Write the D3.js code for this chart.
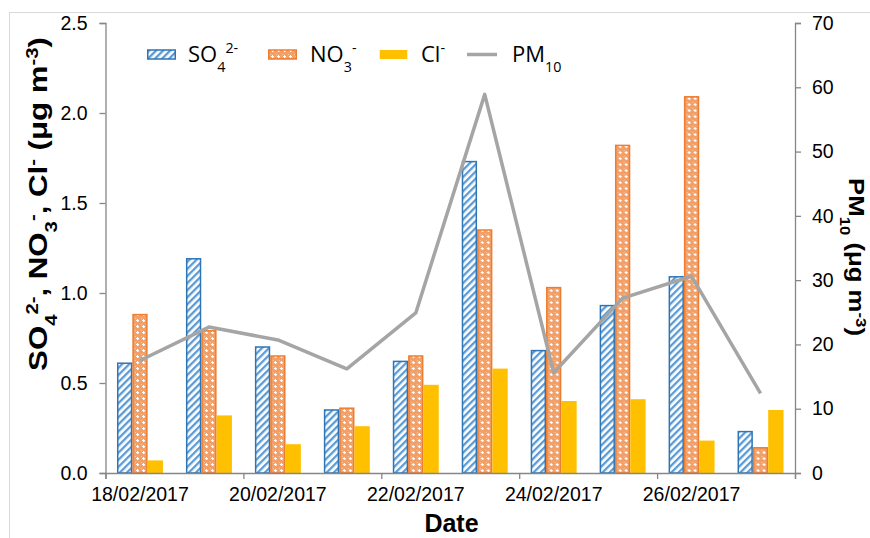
<!DOCTYPE html>
<html>
<head>
<meta charset="utf-8">
<script src="https://cdn.jsdelivr.net/npm/d3@7"></script>
<style>
  body { margin: 0; background: #fff; }
  svg { display: block; }
</style>
</head>
<body>
<div id="chart"></div>
<script>
// data
var dates = ["18/02/2017", "19/02/2017", "20/02/2017", "21/02/2017", "22/02/2017",
             "23/02/2017", "24/02/2017", "25/02/2017", "26/02/2017", "27/02/2017"];
var so4 = [0.61, 1.19, 0.70, 0.35, 0.62, 1.73, 0.68, 0.93, 1.09, 0.23];
var no3 = [0.88, 0.79, 0.65, 0.36, 0.65, 1.35, 1.03, 1.82, 2.09, 0.14];
var cl = [0.07, 0.32, 0.16, 0.26, 0.49, 0.58, 0.40, 0.41, 0.18, 0.35];
var pm10 = [17.5, 22.7, 20.7, 16.2, 24.9, 58.9, 15.6, 27.2, 30.6, 12.4];
var leftTicks = [0, 0.5, 1.0, 1.5, 2.0, 2.5];
var rightTicks = [0, 10, 20, 30, 40, 50, 60, 70];
var seriesKeys = ["so4", "no3", "cl"];

// set the dimensions and margins of the graph
var W = 870, H = 538;
var plot = {left: 105.5, right: 795, top: 23, bottom: 473};

var svg = d3.select("#chart")
    .append("svg")
        .attr("width", W)
        .attr("height", H);

// patterns for the bars
var defs = svg.append("defs");
var stripes = defs.append("pattern")
    .attr("id", "stripes")
    .attr("patternUnits", "userSpaceOnUse")
    .attr("width", 5).attr("height", 5)
    .attr("patternTransform", "rotate(45)");
stripes.append("rect").attr("width", 5).attr("height", 5).attr("fill", "#fff");
stripes.append("rect").attr("width", 2.3).attr("height", 5).attr("fill", "#5b9bd5");

var dots = defs.append("pattern")
    .attr("id", "dots")
    .attr("patternUnits", "userSpaceOnUse")
    .attr("width", 6).attr("height", 6);
dots.append("rect").attr("width", 6).attr("height", 6).attr("fill", "#f3a068");
dots.append("rect").attr("x", 0).attr("y", 0).attr("width", 1).attr("height", 1).attr("fill", "#f8c9a6");
dots.append("rect").attr("x", 3).attr("y", 3).attr("width", 1).attr("height", 1).attr("fill", "#f8c9a6");
dots.append("rect").attr("x", 2).attr("y", 1).attr("width", 1).attr("height", 3).attr("fill", "#fff");
dots.append("rect").attr("x", 1).attr("y", 2).attr("width", 3).attr("height", 1).attr("fill", "#fff");

// chart area border
svg.append("rect")
    .attr("x", 9.5).attr("y", 12.5)
    .attr("width", W).attr("height", H)
    .attr("fill", "none")
    .attr("stroke", "#d9d9d9");

// scales
var x = d3.scaleBand().domain(dates).range([plot.left, plot.right])
    .paddingInner(1 / 3).paddingOuter(1 / 6);
var xSub = d3.scaleBand().domain(seriesKeys).range([0, x.bandwidth()]);
var xIdx = d3.scaleLinear().domain([0, dates.length]).range([plot.left, plot.right]);
var yL = d3.scaleLinear().domain([0, 2.5]).range([plot.bottom, plot.top]);
var yR = d3.scaleLinear().domain([0, 70]).range([plot.bottom, plot.top]);

var rows = dates.map(function(d, i) {
    return {date: d, so4: so4[i], no3: no3[i], cl: cl[i], pm: pm10[i]};
});

var styles = {
    so4: {fill: "url(#stripes)", stroke: "#2e75b6"},
    no3: {fill: "url(#dots)", stroke: "#ed7d31"},
    cl: {fill: "#ffc000", stroke: "none"}
};

// bars
var groups = svg.append("g").selectAll("g")
    .data(rows).enter().append("g")
    .attr("transform", function(d) { return "translate(" + x(d.date) + ",0)"; });

groups.selectAll("rect")
    .data(function(d) { return seriesKeys.map(function(k) { return {key: k, value: d[k]}; }); })
    .enter().append("rect")
        .attr("x", function(d) { return xSub(d.key) + (d.key == "cl" ? 0 : 0.75); })
        .attr("y", function(d) { return yL(d.value); })
        .attr("width", function(d) { return xSub.bandwidth() - (d.key == "cl" ? 0 : 1.5); })
        .attr("height", function(d) { return plot.bottom - yL(d.value); })
        .attr("fill", function(d) { return styles[d.key].fill; })
        .attr("stroke", function(d) { return styles[d.key].stroke; })
        .attr("stroke-width", 1.5);

// PM10 line
var pmLine = d3.line()
    .x(function(d) { return x(d.date) + x.bandwidth() / 2; })
    .y(function(d) { return yR(d.pm); });

svg.append("path")
    .datum(rows)
    .attr("d", pmLine)
    .attr("fill", "none")
    .attr("stroke", "#a5a5a5")
    .attr("stroke-width", 3.5)
    .attr("stroke-linejoin", "round");

// axes
function styleAxis(g) {
    g.selectAll(".domain").attr("stroke", "#868686").attr("stroke-width", 1.3);
    g.selectAll(".tick line").attr("stroke", "#868686").attr("stroke-width", 1.3);
    g.selectAll(".tick text").attr("fill", "#000")
        .style("font-family", "'Liberation Sans', Arial, sans-serif")
        .style("font-size", "19.5px");
}

svg.append("g")
    .attr("transform", "translate(" + plot.left + ",0)")
    .call(d3.axisLeft(yL).tickValues(leftTicks).tickFormat(d3.format(".1f"))
        .tickSize(6).tickSizeOuter(6).tickPadding(12))
    .call(styleAxis);

svg.append("g")
    .attr("transform", "translate(" + plot.right + ",0)")
    .call(d3.axisRight(yR).tickValues(rightTicks).tickFormat(d3.format("d"))
        .tickSize(6).tickSizeOuter(6).tickPadding(11))
    .call(styleAxis);

// x axis: tick marks every two days, labels under the day
svg.append("g")
    .attr("transform", "translate(0," + plot.bottom + ")")
    .call(d3.axisBottom(xIdx).tickValues([0, 2, 4, 6, 8, 10]).tickFormat("")
        .tickSize(6).tickSizeOuter(6))
    .call(styleAxis);

svg.append("g")
    .attr("transform", "translate(0," + plot.bottom + ")")
    .call(d3.axisBottom(x).tickValues(dates.filter(function(d, i) { return i % 2 == 0; }))
        .tickSize(0).tickPadding(14))
    .call(styleAxis)
    .call(function(g) { g.select(".domain").remove(); });

// axis titles
var titleFont = "'Liberation Sans', Arial, sans-serif";

svg.append("text")
    .attr("x", 451.5).attr("y", 532)
    .attr("text-anchor", "middle")
    .style("font-family", titleFont).style("font-size", "25px").style("font-weight", "bold")
    .text("Date");

function addScript(t, str, shift) {
    t.append("tspan").attr("baseline-shift", shift).style("font-size", "65%").text(str);
}

var lt = svg.append("text")
    .attr("transform", "translate(47,204) rotate(-90) scale(1.2,1)")
    .attr("text-anchor", "middle")
    .style("font-family", titleFont).style("font-size", "26px").style("font-weight", "bold");
lt.append("tspan").text("SO");
addScript(lt, "4", "sub");
addScript(lt, "2-", "super");
lt.append("tspan").text(", NO");
addScript(lt, "3", "sub");
addScript(lt, "-", "super");
lt.append("tspan").text(", Cl");
addScript(lt, "-", "super");
lt.append("tspan").text(" (μg m");
addScript(lt, "-3", "super");
lt.append("tspan").text(")");

var rt = svg.append("text")
    .attr("transform", "translate(848.5,257) rotate(90) scale(1.12,1)")
    .attr("text-anchor", "middle")
    .style("font-family", titleFont).style("font-size", "23px").style("font-weight", "bold");
rt.append("tspan").text("PM");
addScript(rt, "10", "sub");
rt.append("tspan").text(" (μg m");
addScript(rt, "-3", "super");
rt.append("tspan").text(")");

// legend
var legendFont = "'Open Sans', sans-serif";
var legendItems = [
    {key: "so4", x: 147, tx: 188},
    {key: "no3", x: 268, tx: 310},
    {key: "cl", x: 379, tx: 421},
    {key: "pm", x: 467, tx: 512}
];
var legend = svg.append("g");
legendItems.forEach(function(it) {
    if (it.key == "pm") {
        legend.append("line")
            .attr("x1", it.x).attr("x2", it.x + 30).attr("y1", 54.5).attr("y2", 54.5)
            .attr("stroke", "#a5a5a5").attr("stroke-width", 3.5);
    } else {
        legend.append("rect")
            .attr("x", it.x + 0.75).attr("y", 50)
            .attr("width", 27.5).attr("height", 9)
            .attr("fill", styles[it.key].fill)
            .attr("stroke", styles[it.key].stroke)
            .attr("stroke-width", 1.5);
    }
    var t = legend.append("text")
        .attr("x", it.tx).attr("y", 62)
        .style("font-family", legendFont).style("font-size", "22px").attr("fill", "#000");
    if (it.key == "so4") { t.append("tspan").text("SO"); addScript(t, "4", "sub"); addScript(t, "2-", "super"); }
    if (it.key == "no3") { t.append("tspan").text("NO"); addScript(t, "3", "sub"); addScript(t, "-", "super"); }
    if (it.key == "cl") { t.append("tspan").text("Cl"); addScript(t, "-", "super"); }
    if (it.key == "pm") { t.append("tspan").text("PM"); addScript(t, "10", "sub"); }
});
</script>
</body>
</html>
